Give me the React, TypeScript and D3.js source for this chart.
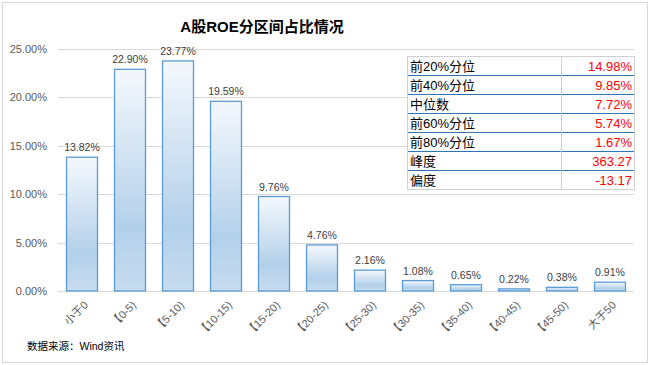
import React, { useEffect, useRef } from 'react'
import * as d3 from 'd3'

const categories = ['小于0', '【0-5)', '【5-10)', '【10-15)', '【15-20)', '【20-25)', '【25-30)', '【30-35)', '【35-40)', '【40-45)', '【45-50)', '大于50']
const shares = [13.82, 22.9, 23.77, 19.59, 9.76, 4.76, 2.16, 1.08, 0.65, 0.22, 0.38, 0.91]
const yTicks = [0, 5, 10, 15, 20, 25]
const statLabels = ['前20%分位', '前40%分位', '中位数', '前60%分位', '前80%分位', '峰度', '偏度']
const statValues = ['14.98%', '9.85%', '7.72%', '5.74%', '1.67%', '363.27', '-13.17']

const W = 650
const H = 365
const margin = { top: 49, right: 16, bottom: 74, left: 58 }
const font = "'Liberation Sans', 'Noto Sans CJK SC', sans-serif"

export default function App() {
  const svgRef = useRef<SVGSVGElement>(null)

  useEffect(() => {
    if (!svgRef.current) return
    const svg = d3.select(svgRef.current)
    svg.selectAll('*').remove()

    const chartW = W - margin.left - margin.right
    const chartH = H - margin.top - margin.bottom

    // 外框
    svg.append('rect')
      .attr('x', 2.5).attr('y', 2.5)
      .attr('width', W - 5).attr('height', H - 5)
      .attr('fill', '#fff').attr('stroke', '#d9d9d9')

    // 渐变
    const grad = svg.append('defs').append('linearGradient')
      .attr('id', 'barGrad')
      .attr('x1', 0).attr('y1', 0).attr('x2', 0).attr('y2', 1)
    grad.append('stop').attr('offset', '0%').attr('stop-color', '#f5f8fd')
    grad.append('stop').attr('offset', '72%').attr('stop-color', '#b3d0ea')
    grad.append('stop').attr('offset', '100%').attr('stop-color', '#c7dcf0')

    svg.append('text')
      .attr('x', 262).attr('y', 32)
      .attr('text-anchor', 'middle')
      .style('font-family', font)
      .style('font-size', '15px')
      .style('font-weight', 'bold')
      .attr('fill', '#000')
      .text('A股ROE分区间占比情况')

    const x = d3.scaleBand<string>()
      .domain(categories)
      .range([0, chartW])
      .paddingInner(1 / 3)
      .paddingOuter(1 / 6)

    const y = d3.scaleLinear().domain([0, 25]).range([chartH, 0])

    const g = svg.append('g').attr('transform', `translate(${margin.left},${margin.top})`)

    // 网格线
    g.append('g')
      .selectAll('line')
      .data(yTicks)
      .enter()
      .append('line')
      .attr('x1', 0).attr('x2', chartW)
      .attr('y1', d => Math.round(y(d)) + 0.5)
      .attr('y2', d => Math.round(y(d)) + 0.5)
      .attr('stroke', '#d9d9d9')

    // y 轴标签
    g.append('g')
      .selectAll('text')
      .data(yTicks)
      .enter()
      .append('text')
      .attr('x', -11)
      .attr('y', d => y(d) + 4)
      .attr('text-anchor', 'end')
      .style('font-family', font)
      .style('font-size', '11px')
      .attr('fill', '#595959')
      .text(d => d3.format('.2f')(d) + '%')

    // 柱子
    g.append('g')
      .selectAll('rect')
      .data(shares)
      .enter()
      .append('rect')
      .attr('x', (_, i) => x(categories[i])! + 0.5)
      .attr('y', d => y(d))
      .attr('width', x.bandwidth() - 1)
      .attr('height', d => chartH - y(d))
      .attr('fill', 'url(#barGrad)')
      .attr('stroke', '#5b9bd5')
      .attr('stroke-width', 1.3)

    // 数据标签
    g.append('g')
      .selectAll('text')
      .data(shares)
      .enter()
      .append('text')
      .attr('x', (_, i) => x(categories[i])! + x.bandwidth() / 2)
      .attr('y', d => y(d) - 6)
      .attr('text-anchor', 'middle')
      .style('font-family', font)
      .style('font-size', '10.5px')
      .attr('fill', '#404040')
      .text(d => d.toFixed(2) + '%')

    // x 轴标签
    g.append('g')
      .selectAll('text')
      .data(categories)
      .enter()
      .append('text')
      .attr('transform', d => `translate(${x(d)! + x.bandwidth() / 2 + 4},${chartH + 12}) rotate(-45)`)
      .attr('text-anchor', 'end')
      .attr('dy', '0.35em')
      .style('font-family', font)
      .style('font-size', '11px')
      .attr('fill', '#595959')
      .text(d => d)

    // 表格
    const tx = 407
    const ty = 56
    const rowH = 19
    const colSplit = 561
    const tRight = 634
    const tab = svg.append('g')
    tab.append('rect')
      .attr('x', tx).attr('y', ty)
      .attr('width', tRight - tx).attr('height', rowH * statLabels.length)
      .attr('fill', '#fff')
    statLabels.forEach((label, i) => {
      const ry = ty + i * rowH
      tab.append('text')
        .attr('x', tx + 3).attr('y', ry + 15)
        .style('font-family', font)
        .style('font-size', '13px')
        .attr('fill', '#000')
        .text(label)
      tab.append('text')
        .attr('x', tRight - 2).attr('y', ry + 15)
        .attr('text-anchor', 'end')
        .style('font-family', font)
        .style('font-size', '13px')
        .attr('fill', '#ff0000')
        .text(statValues[i])
      if (i > 0) {
        tab.append('line')
          .attr('x1', tx).attr('x2', tRight)
          .attr('y1', ry + 0.5).attr('y2', ry + 0.5)
          .attr('stroke', '#2e75b6')
      }
    })
    tab.append('rect')
      .attr('x', tx + 0.5).attr('y', ty + 0.5)
      .attr('width', tRight - tx).attr('height', rowH * statLabels.length)
      .attr('fill', 'none').attr('stroke', '#d0d0d0')
    tab.append('line')
      .attr('x1', colSplit + 0.5).attr('x2', colSplit + 0.5)
      .attr('y1', ty).attr('y2', ty + rowH * statLabels.length)
      .attr('stroke', '#d0d0d0')

    svg.append('text')
      .attr('x', 27).attr('y', 350)
      .style('font-family', font)
      .style('font-size', '10.5px')
      .attr('fill', '#000')
      .text('数据来源：Wind资讯')
  }, [])

  return (
    <div style={{ position: 'absolute', left: 0, top: 0 }}>
      <svg ref={svgRef} width={W} height={H} style={{ display: 'block' }} />
    </div>
  )
}
